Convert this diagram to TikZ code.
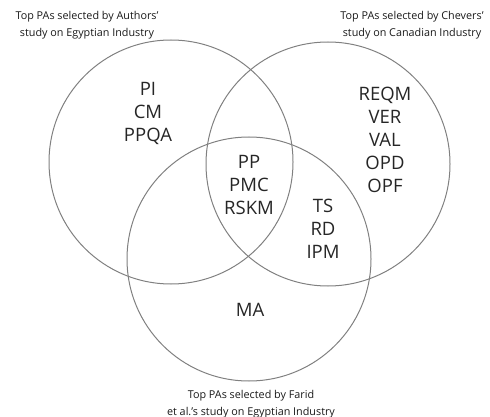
\documentclass[tikz,border=0pt]{standalone}
\usepackage{fontspec}
\setmainfont{Open Sans}
\begin{document}
\begin{tikzpicture}[x=1pt,y=-1pt,
        setcircle/.style={circle, draw=black!50, line width=1pt, minimum size=244pt, inner sep=0pt},
        itemlist/.style={align=center, font=\fontsize{18.5}{23}\selectfont, text=black!85, inner sep=0pt},
        setlabel/.style={align=center, font=\fontsize{10.8}{17}\selectfont, text=black!90, inner sep=0pt},
    ]
        \useasboundingbox (0,0) rectangle (490,417);

        %Circles
        \node[setcircle] (authors) at (171,162) {};
        \node[setcircle] (chevers) at (328,164) {};
        \node[setcircle] (farid) at (249,259) {};

        %Labels
        \node[setlabel] (authors_t) at (87,25) {Top PAs selected by Authors'\\study on Egyptian Industry};
        \node[setlabel] (chevers_t) at (412,25) {Top PAs selected by Chevers'\\study on Canadian Industry};
        \node[setlabel] (farid_t) at (251,404) {Top PAs selected by Farid\\et al.'s study on Egyptian Industry};

        %Regions
        \node[itemlist] (only_authors) at (148,113) {PI\\CM\\PPQA};
        \node[itemlist] (only_chevers) at (385,140) {REQM\\VER\\VAL\\OPD\\OPF};
        \node[itemlist] (all_three) at (249,185) {PP\\PMC\\RSKM};
        \node[itemlist] (chevers_farid) at (323,229) {TS\\RD\\IPM};
        \node[itemlist] (only_farid) at (250,310) {MA};
    \end{tikzpicture}
\end{document}
